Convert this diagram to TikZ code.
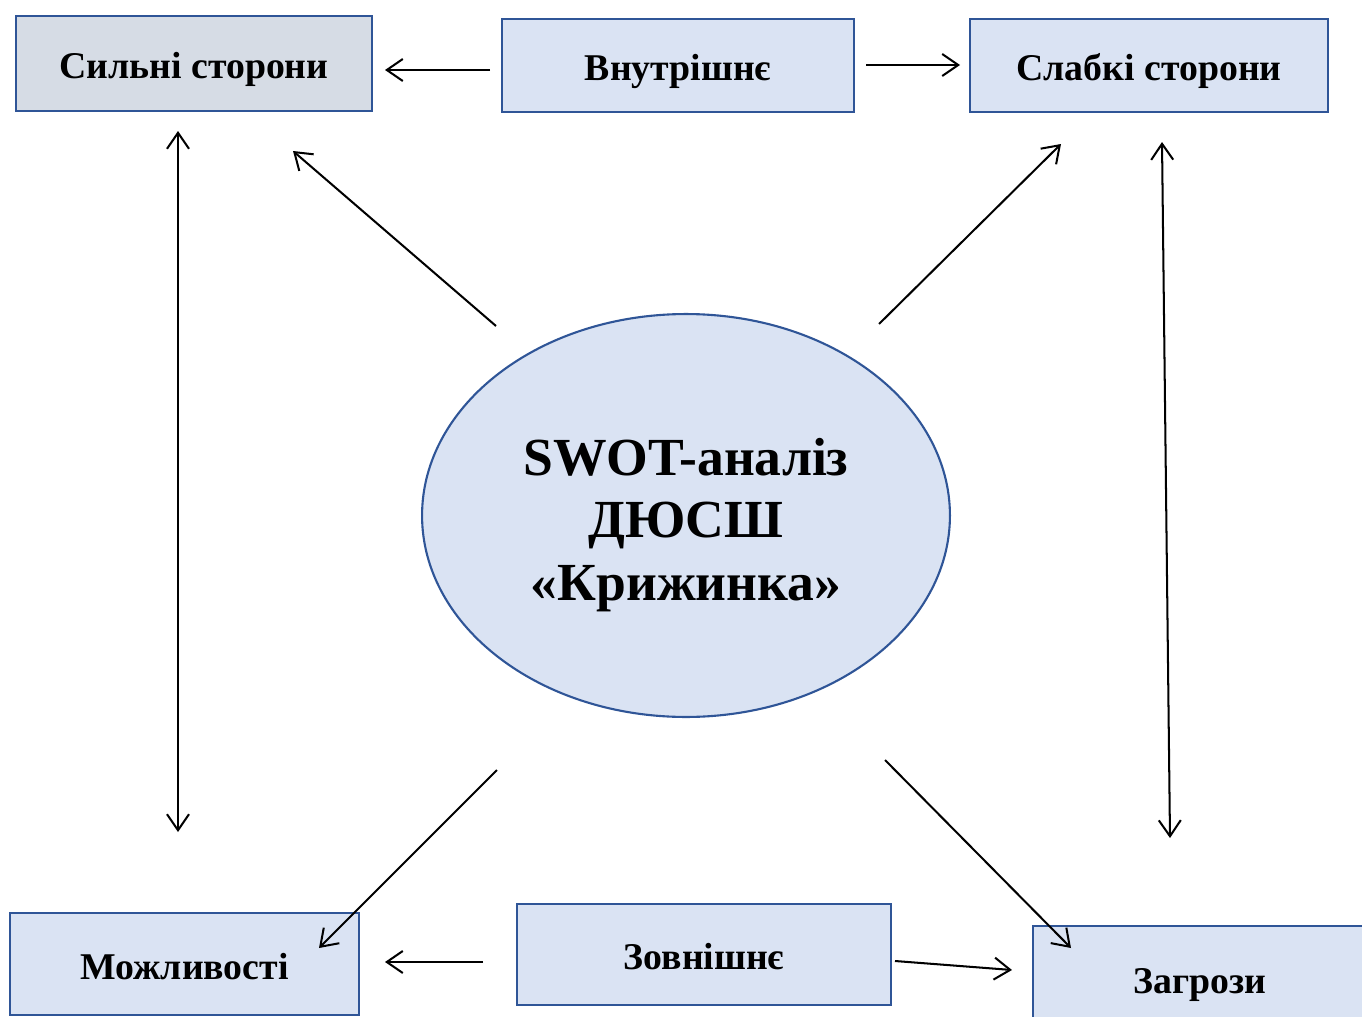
\documentclass[tikz,border=0pt]{standalone}
\usepackage{fontspec}
\setmainfont{Liberation Serif}
\usepackage{xcolor}
\usetikzlibrary{shapes.geometric, arrows.meta}
\definecolor{boxblue}{HTML}{DAE3F3}
\definecolor{boxgray}{HTML}{D6DCE5}
\definecolor{edgeblue}{HTML}{2F5597}

\begin{document}
\begin{tikzpicture}[
  x=0.02cm, y=-0.02cm,
  box/.style={draw=edgeblue, line width=1.2pt, fill=boxblue, inner sep=0pt, text height=21pt, text depth=3.4pt, font=\fontsize{21.5}{26}\selectfont\bfseries},
  grayBox/.style={box, fill=boxgray},
  centerEll/.style={ellipse, draw=edgeblue, line width=1.2pt, fill=boxblue, inner sep=0pt, minimum width=10.56cm, minimum height=8.06cm},
  centerTxt/.style={inner sep=0pt, align=center, font=\fontsize{30.5}{35.5}\selectfont\bfseries},
  arr/.style={-{Straight Barb[length=0.32cm, width=0.44cm]}, line width=1.15pt},
  darr/.style={{Straight Barb[length=0.32cm, width=0.44cm]}-{Straight Barb[length=0.32cm, width=0.44cm]}, line width=1.15pt}
]
\clip (0,0) rectangle (1362,1017);
\useasboundingbox (0,0) rectangle (1362,1017);

% boxes
\node[grayBox, minimum width=7.12cm, minimum height=1.9cm] (strong) at (194,63.5) {Сильні сторони};
\node[box, minimum width=7.04cm, minimum height=1.86cm] (inner) at (678,65.5) {Внутрішнє};
\node[box, minimum width=7.16cm, minimum height=1.86cm] (weak) at (1149,65.5) {Слабкі сторони};
\node[box, minimum width=6.98cm, minimum height=2.04cm] (chance) at (184.5,964) {Можливості};
\node[box, minimum width=7.48cm, minimum height=2.02cm] (outer) at (704,954.5) {Зовнішнє};
\node[box, minimum width=6.68cm, minimum height=2.08cm] (threat) at (1200,978) {Загрози};

% centre
\node[centerEll] (swot) at (686,515.5) {};
\node[centerTxt] (swotTxt) at (686,525) {SWOT-аналіз\\ДЮСШ\\«Крижинка»};

% arrow ends
\coordinate (in-s) at (490,70);   \coordinate (s-in) at (385,70);
\coordinate (in-w) at (866,65);   \coordinate (w-in) at (960,65);
\coordinate (sw-s) at (496,326);  \coordinate (s-sw) at (293,151);
\coordinate (sw-w) at (879,324);  \coordinate (w-sw) at (1061,144);
\coordinate (s-c) at (178,131);   \coordinate (c-s) at (178,832);
\coordinate (w-t) at (1162,142);  \coordinate (t-w) at (1170,838);
\coordinate (sw-c) at (497,770);  \coordinate (c-sw) at (319,948);
\coordinate (sw-t) at (885,760);  \coordinate (t-sw) at (1071,948);
\coordinate (out-c) at (483,962); \coordinate (c-out) at (385,962);
\coordinate (out-t) at (895,961); \coordinate (t-out) at (1012,970);

\draw[arr] (in-s) -- (s-in);
\draw[arr] (in-w) -- (w-in);
\draw[arr] (sw-s) -- (s-sw);
\draw[arr] (sw-w) -- (w-sw);
\draw[darr] (s-c) -- (c-s);
\draw[darr] (w-t) -- (t-w);
\draw[arr] (sw-c) -- (c-sw);
\draw[arr] (sw-t) -- (t-sw);
\draw[arr] (out-c) -- (c-out);
\draw[arr] (out-t) -- (t-out);

\end{tikzpicture}
\end{document}
